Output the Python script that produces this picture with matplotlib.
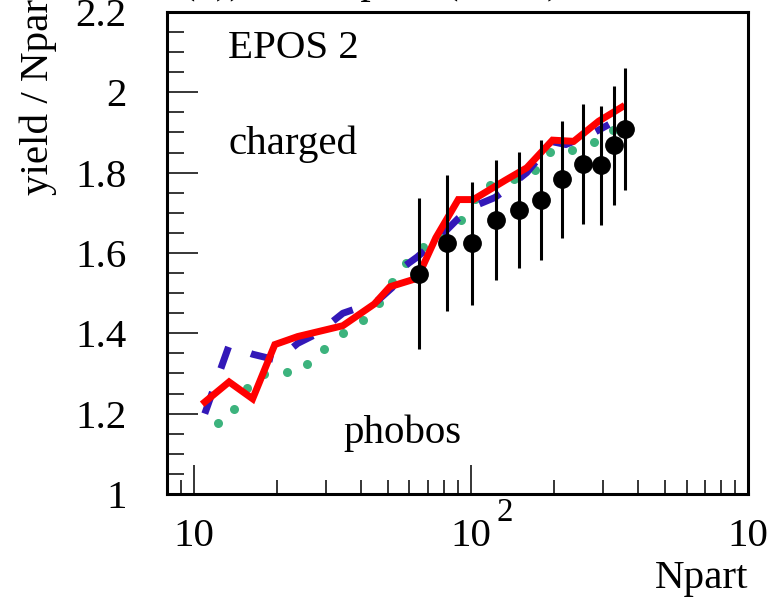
import numpy as np
import matplotlib
matplotlib.use("Agg")
import matplotlib.pyplot as plt
from matplotlib.ticker import FixedLocator, NullFormatter

plt.rcParams['font.family'] = ['Liberation Serif', 'DejaVu Serif']
plt.rcParams['mathtext.fontset'] = 'stix'

# EPOS 2, red solid
red_n = [10.95, 13.4, 16.3, 19.6, 23.7, 34.5, 44.8, 51, 64, 74.7, 90, 102, 133, 159, 197, 235, 289, 350]
red_y = [1.229, 1.279, 1.237, 1.372, 1.392, 1.419, 1.473, 1.516, 1.537, 1.638, 1.733, 1.733,
         1.781, 1.812, 1.881, 1.878, 1.928, 1.963]

# blue dashed
blue_n = [10.95, 13.4, 16.3, 20.0, 23.7, 28.0, 34.5, 38.0, 46.0, 52.0, 57.0, 64.0, 74.7, 90.0,
          103.0, 122.0, 133.0, 159.0, 197.0, 220.0, 270.0, 315.0]
blue_y = [1.200, 1.370, 1.348, 1.333, 1.375, 1.400, 1.450, 1.460, 1.481, 1.514, 1.565, 1.590,
          1.630, 1.686, 1.717, 1.738, 1.757, 1.800, 1.877, 1.870, 1.895, 1.920]

# green dotted
green_n = [12.2, 14.0, 15.5, 17.9, 21.6, 25.6, 29.5, 34.5, 40.7, 46.4, 51.7, 58.2, 66.9, 78.7,
           92.2, 103.5, 117, 143, 170, 193, 231, 278, 326]
green_y = [1.178, 1.211, 1.264, 1.298, 1.303, 1.323, 1.361, 1.400, 1.433, 1.476, 1.528, 1.574,
           1.614, 1.645, 1.682, 1.734, 1.769, 1.783, 1.806, 1.851, 1.856, 1.876, 1.907]

# phobos data
data_n = [65.0, 82.2, 101, 123.6, 149, 179, 214, 253, 294, 329, 359]
data_y = [1.548, 1.624, 1.624, 1.683, 1.707, 1.732, 1.783, 1.822, 1.818, 1.868, 1.909]
data_err = [0.188, 0.169, 0.154, 0.149, 0.145, 0.149, 0.145, 0.149, 0.149, 0.149, 0.152]

fs = 29.5

fig = plt.figure(figsize=(7.7, 5.97), dpi=100)
ax = fig.add_axes([167 / 770, 1 - 494 / 597, 581 / 770, 482 / 597])

ax.plot(green_n, green_y, 'o', color='#3cb37d', ms=6.5, mec='none', zorder=2)
ax.plot(blue_n, blue_y, color='#3318b8', lw=5, dashes=(3.3, 3.6), dash_capstyle='butt', zorder=3)
ax.plot(red_n, red_y, color='#ff0000', lw=5, solid_joinstyle='miter', zorder=4)
ax.errorbar(data_n, data_y, yerr=data_err, fmt='o', color='black', ms=12.5, elinewidth=2.2,
            capsize=0, zorder=5)

ax.set_xscale('log')
ax.set_xlim(8, 1000)
ax.set_ylim(1, 2.2)

ax.xaxis.set_major_locator(FixedLocator([10, 100, 1000]))
ax.xaxis.set_minor_locator(FixedLocator([8, 9] + [k * 10 for k in range(2, 10)] + [k * 100 for k in range(2, 10)]))
ax.set_xticklabels(['10', '10', '10'])
ax.xaxis.set_minor_formatter(NullFormatter())
ax.yaxis.set_major_locator(FixedLocator([1, 1.2, 1.4, 1.6, 1.8, 2.0, 2.2]))
ax.yaxis.set_minor_locator(FixedLocator(np.arange(1, 2.21, 0.05)))
ax.set_yticklabels(['1', '1.2', '1.4', '1.6', '1.8', '2', '2.2'])

ax.tick_params(which='both', direction='in', top=False, right=False, labelsize=fs, width=1.1)
ax.tick_params(axis='x', which='major', length=21, pad=17)
ax.tick_params(axis='x', which='minor', length=10)
ax.tick_params(axis='y', which='major', length=22, pad=29)
ax.tick_params(axis='y', which='minor', length=12)
for s in ax.spines.values():
    s.set_linewidth(2.2)

# exponents of the x labels
for xe, e in [(100, '2'), (1000, '3')]:
    ax.text(xe * 1.24, -0.071, e, transform=ax.get_xaxis_transform(), fontsize=fs * 0.8,
            ha='left', va='bottom')

ax.text(0.105, 0.905, 'EPOS 2', transform=ax.transAxes, fontsize=fs)
ax.text(0.105, 0.705, 'charged', transform=ax.transAxes, fontsize=fs)
ax.text(0.303, 0.105, 'phobos', transform=ax.transAxes, fontsize=fs)

fig.text(748 / 770, 1 - 588 / 597, 'Npart', fontsize=fs, ha='right', va='baseline')
fig.text(38 / 770, 1 - 195 / 597, 'yield / Npart / 2', fontsize=fs, rotation=90,
         ha='center', va='bottom')
fig.text(70 / 770, 1 + 7 / 597, 'dN/dN(0))  vs.  Npart  (0-6%)', fontsize=fs,
         ha='left', va='baseline')

fig.savefig('out.png', dpi=100)
